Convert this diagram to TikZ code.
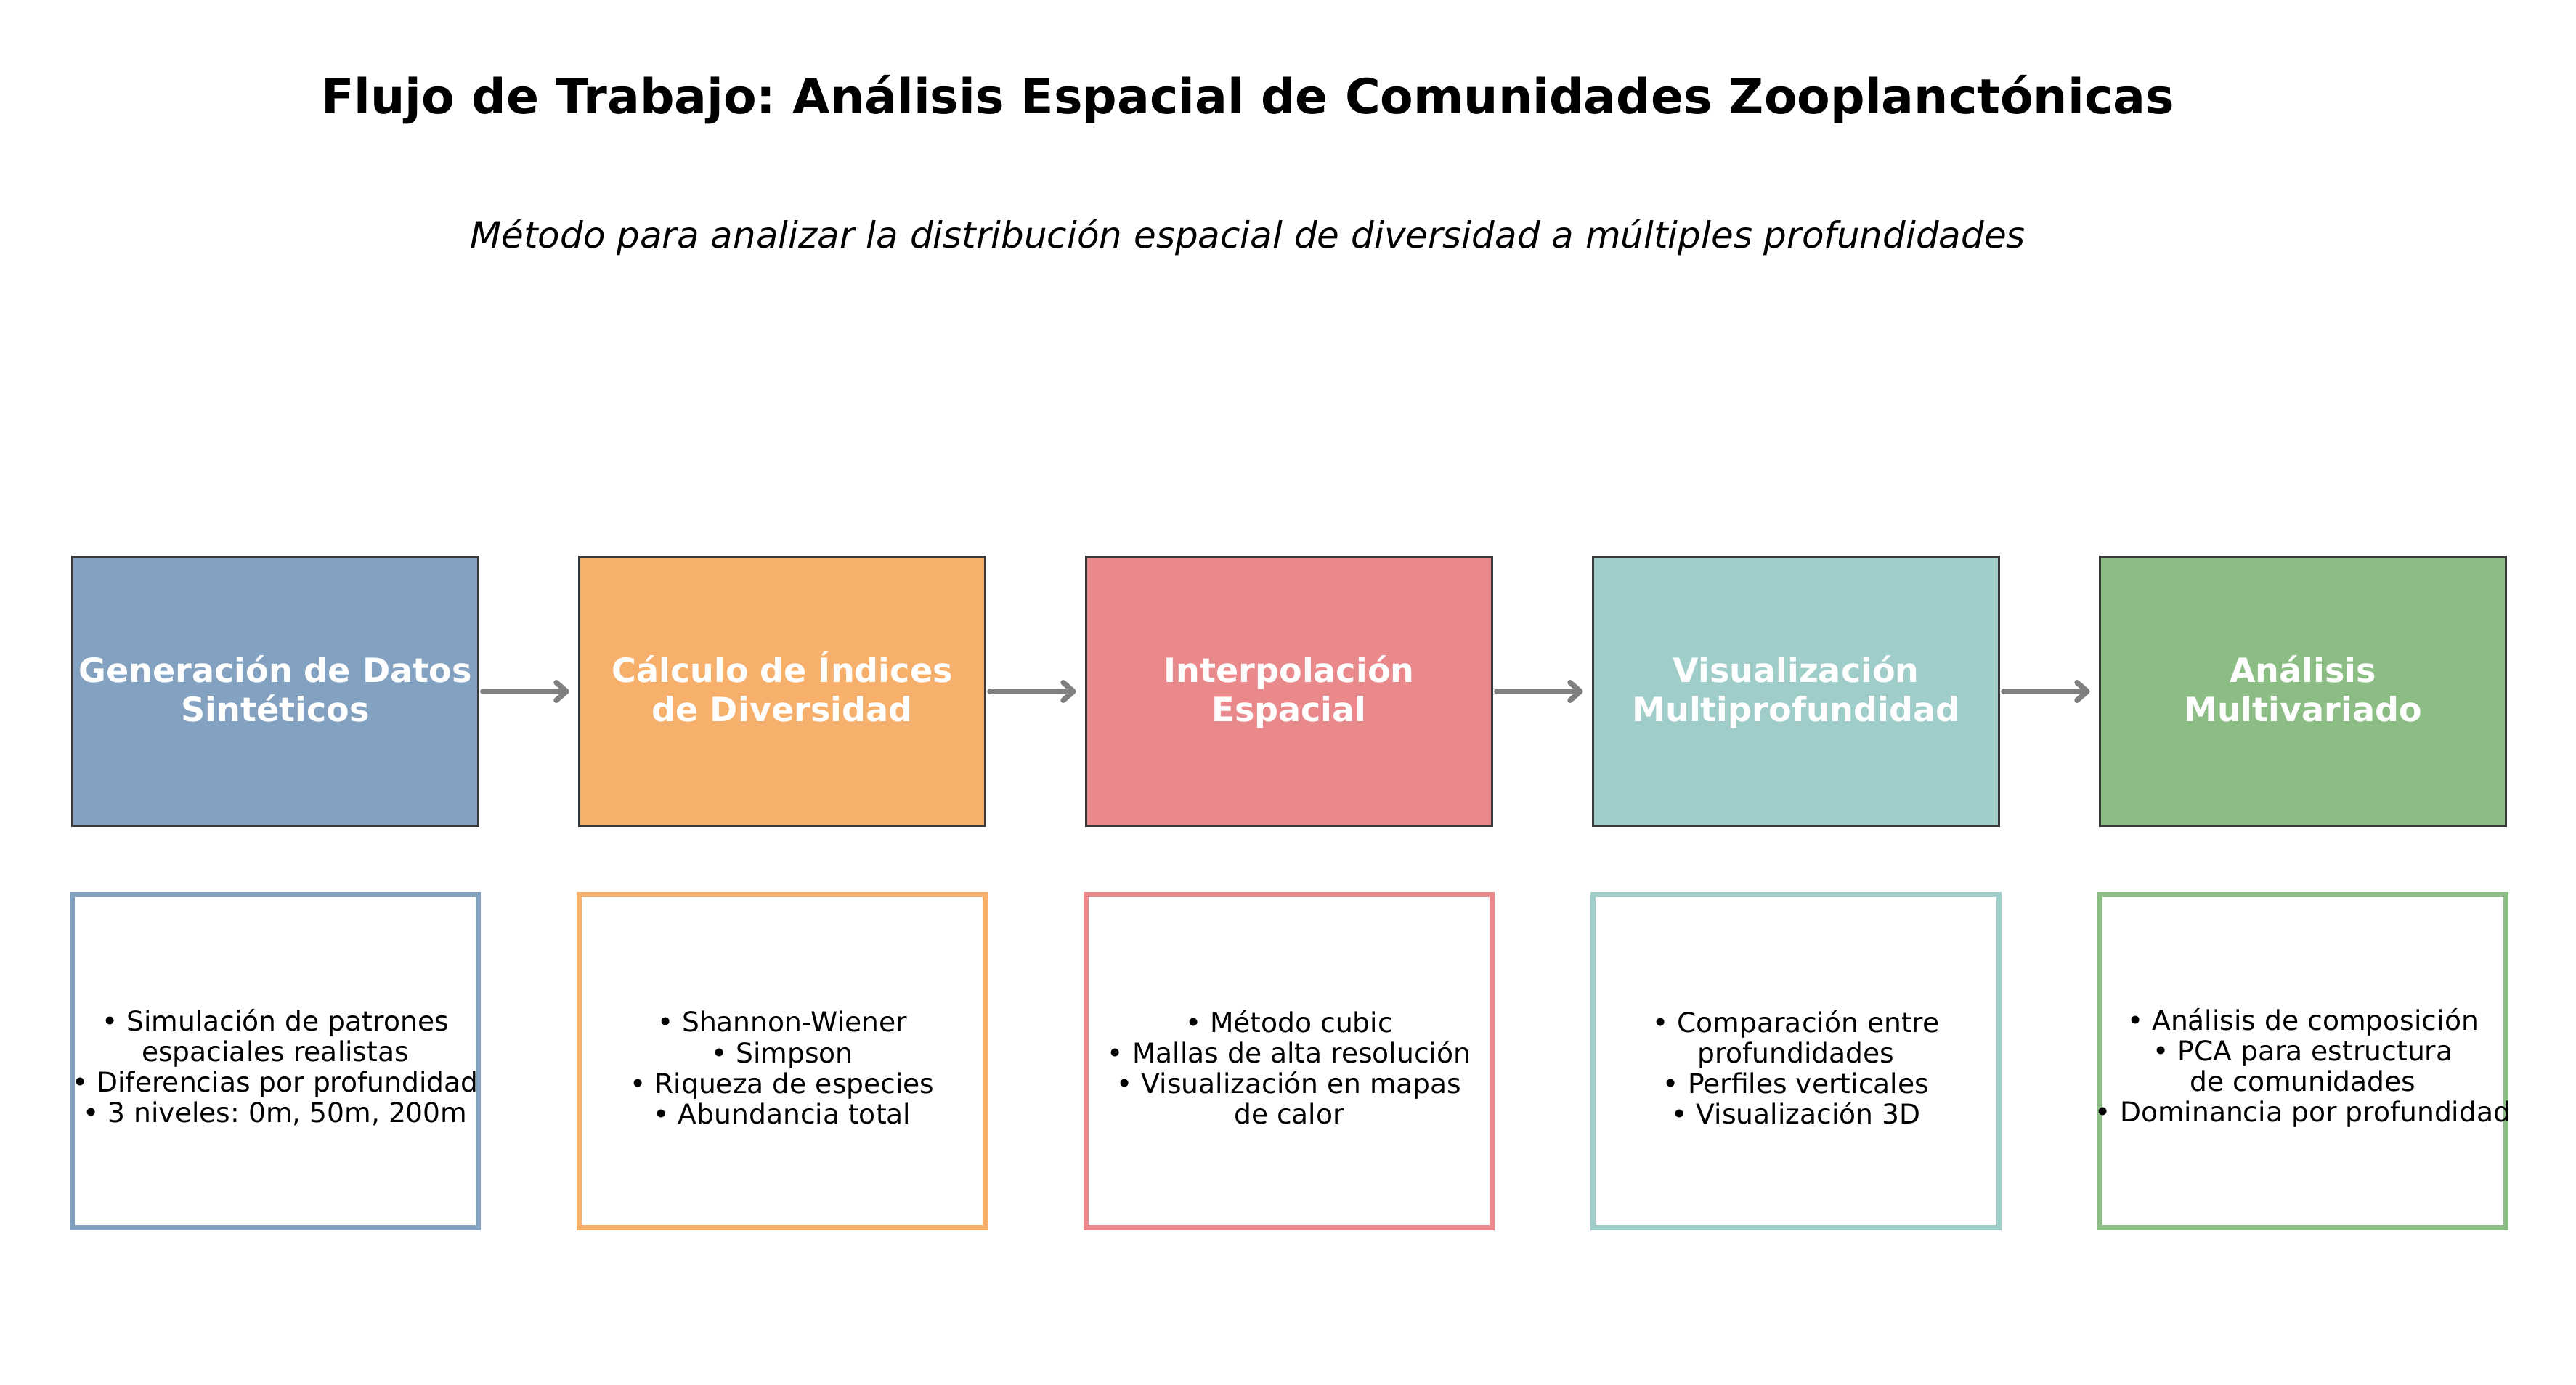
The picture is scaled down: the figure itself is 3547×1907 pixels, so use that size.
\documentclass[tikz,border=0pt]{standalone}
\usepackage{fontspec}
\setmainfont{DejaVu Sans}
\usetikzlibrary{arrows.meta}
\definecolor{gen}{RGB}{131,161,193}
\definecolor{calc}{RGB}{246,176,107}
\definecolor{interp}{RGB}{234,137,139}
\definecolor{visu}{RGB}{159,205,201}
\definecolor{multi}{RGB}{139,189,132}
\frenchspacing
\begin{document}
\begin{tikzpicture}[x=0.01cm,y=-0.01cm,
      stage/.style={draw=black!78,line width=0.95pt,minimum width=5.59cm,
        minimum height=3.71cm,inner sep=0pt,align=center,text=white,
        text height=26.5pt,text depth=3pt,
        font=\bfseries\fontsize{13.1}{15.4}\selectfont},
      info/.style={fill=white,line width=2pt,minimum width=5.59cm,
        minimum height=4.59cm,inner sep=0pt},
      infotext/.style={align=center,inner sep=0pt,
        font=\fontsize{10.7}{11.95}\selectfont},
      flow/.style={draw=gray,line width=2.1pt,line cap=round,
        -{Straight Barb[round,length=4pt,width=7pt]},
        shorten <=0.045cm,shorten >=0.12cm}]
      \useasboundingbox (0,0) rectangle (3547,1907);
      \node[font=\bfseries\fontsize{18.9}{22}\selectfont] (title) at (1718,137)
        {Flujo de Trabajo: Análisis Espacial de Comunidades Zooplanctónicas};
      \node[font=\itshape\fontsize{14.2}{17}\selectfont] (subtitle) at (1718,327)
        {Método para analizar la distribución espacial de diversidad a múltiples profundidades};
      % etapas
      \node[stage,fill=gen] (s1) at (379,952) {Generación de Datos\\Sintéticos};
      \node[stage,fill=calc] (s2) at (1077,952) {Cálculo de Índices\\de Diversidad};
      \node[stage,fill=interp] (s3) at (1775,952) {Interpolación\\Espacial};
      \node[stage,fill=visu] (s4) at (2473,952) {Visualización\\Multiprofundidad};
      \node[stage,fill=multi] (s5) at (3171,952) {Análisis\\Multivariado};
      % detalles
      \node[info,draw=gen] (d1) at (379,1461) {};
      \node[info,draw=calc] (d2) at (1077,1461) {};
      \node[info,draw=interp] (d3) at (1775,1461) {};
      \node[info,draw=visu] (d4) at (2473,1461) {};
      \node[info,draw=multi] (d5) at (3171,1461) {};
      \node[infotext] (t1) at ([yshift=-0.09cm]d1.center) {• Simulación de patrones\\espaciales realistas\\• Diferencias por profundidad\\• 3 niveles: 0m, 50m, 200m};
      \node[infotext] (t2) at ([yshift=-0.09cm]d2.center) {• Shannon-Wiener\\• Simpson\\• Riqueza de especies\\• Abundancia total};
      \node[infotext] (t3) at ([yshift=-0.09cm]d3.center) {• Método cubic\\• Mallas de alta resolución\\• Visualización en mapas\\de calor};
      \node[infotext] (t4) at ([yshift=-0.09cm]d4.center) {• Comparación entre\\profundidades\\• Perfiles verticales\\• Visualización 3D};
      \node[infotext] (t5) at ([yshift=-0.09cm]d5.center) {• Análisis de composición\\• PCA para estructura\\de comunidades\\• Dominancia por profundidad};
      \draw[flow] (s1) -- (s2);
      \draw[flow] (s2) -- (s3);
      \draw[flow] (s3) -- (s4);
      \draw[flow] (s4) -- (s5);
     \end{tikzpicture}
\end{document}
